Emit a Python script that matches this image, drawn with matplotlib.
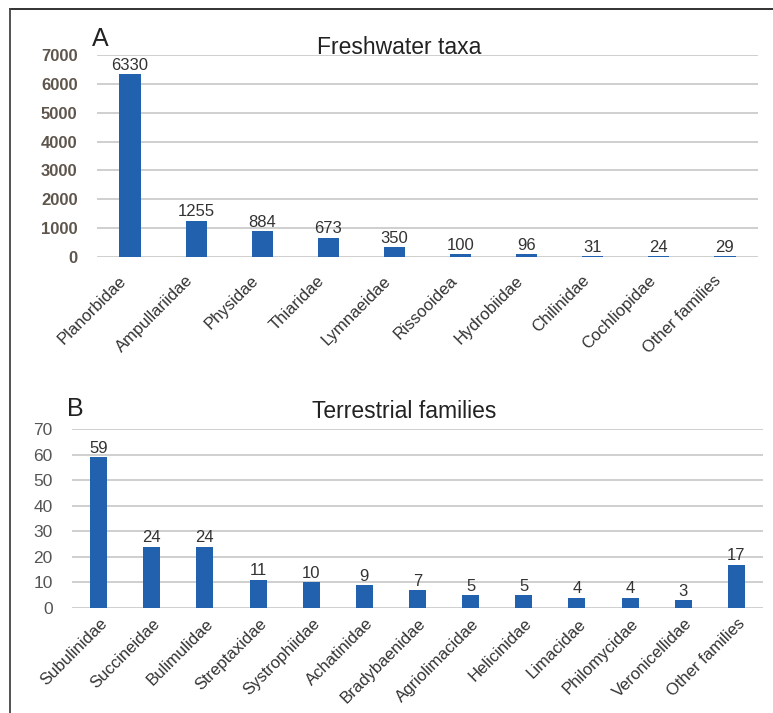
import matplotlib
matplotlib.use("Agg")
import matplotlib.pyplot as plt
from matplotlib.lines import Line2D
from matplotlib.transforms import ScaledTranslation

plt.rcParams['font.family'] = ['Liberation Sans', 'DejaVu Sans']

fresh_taxa = ['Planorbidae', 'Ampullariidae', 'Physidae', 'Thiaridae', 'Lymnaeidae',
              'Rissooidea', 'Hydrobiidae', 'Chilinidae', 'Cochliopidae', 'Other families']
fresh_counts = [6330, 1255, 884, 673, 350, 100, 96, 31, 24, 29]
fresh_ticks = [0, 1000, 2000, 3000, 4000, 5000, 6000, 7000]

terr_families = ['Subulinidae', 'Succineidae', 'Bulimulidae', 'Streptaxidae', 'Systrophiidae',
                 'Achatinidae', 'Bradybaenidae', 'Agriolimacidae', 'Helicinidae', 'Limacidae',
                 'Philomycidae', 'Veronicellidae', 'Other families']
terr_counts = [59, 24, 24, 11, 10, 9, 7, 5, 5, 4, 4, 3, 17]
terr_ticks = [0, 10, 20, 30, 40, 50, 60, 70]

BLUE = '#2161ae'
GRID = '#cfcfcf'

W, H = 773, 713
fig = plt.figure(figsize=(W / 100, H / 100), dpi=100)


def panel(rect, names, values, ticks, tick_color, shift):
    ax = fig.add_axes(rect)
    x = range(len(names))
    ax.bar(x, values, width=0.32, color=BLUE, zorder=3)
    for xi, v in zip(x, values):
        ax.annotate(str(v), (xi, v), xytext=(0, 1), textcoords='offset points',
                    ha='center', va='bottom', fontsize=12, color='#333333', zorder=4)
    ax.set_xlim(-0.5, len(names) - 0.5)
    ax.set_ylim(ticks[0], ticks[-1])
    ax.set_yticks(ticks)
    ax.yaxis.grid(True, color=GRID, linewidth=1.4, zorder=0)
    ax.set_axisbelow(True)
    for s in ax.spines.values():
        s.set_visible(False)
    ax.tick_params(axis='y', length=0, pad=14, labelsize=12.5, labelcolor=tick_color)
    ax.tick_params(axis='x', length=0, pad=6)
    ax.set_xticks(list(x))
    ax.set_xticklabels(names, rotation=45, ha='right', va='center',
                       rotation_mode='anchor', fontsize=12, color='#333333')
    # nudge the rotated labels (pixels at 100 dpi)
    off = ScaledTranslation(shift[0] / 100, shift[1] / 100, fig.dpi_scale_trans)
    for lbl in ax.get_xticklabels():
        lbl.set_transform(lbl.get_transform() + off)
    return ax


axA = panel([97 / W, 1 - 257 / H, 661 / W, 202 / H], fresh_taxa, fresh_counts,
            fresh_ticks, '#5e554c', (-6, -13))
axB = panel([72 / W, 1 - 608 / H, 691 / W, 179 / H], terr_families, terr_counts,
            terr_ticks, '#555555', (6, -5))
for lbl in axA.get_yticklabels():
    lbl.set_fontweight('bold')
    lbl.set_fontsize(12)

fig.text(92 / W, 1 - 46 / H, 'A', fontsize=18, color='#222222', va='baseline')
fig.text(399 / W, 1 - 54 / H, 'Freshwater taxa', fontsize=16.5, color='#222222',
         ha='center', va='baseline')
fig.text(67 / W, 1 - 416 / H, 'B', fontsize=18, color='#222222', va='baseline')
fig.text(404 / W, 1 - 418 / H, 'Terrestrial families', fontsize=16.5, color='#222222',
         ha='center', va='baseline')

# frame lines at top and left of the figure
fig.add_artist(Line2D([10 / W, 1], [1 - 9 / H, 1 - 9 / H], color='#222222', linewidth=1.3))
fig.add_artist(Line2D([10 / W, 10 / W], [0, 1 - 9 / H], color='#444444', linewidth=1.3))

fig.savefig('out.png', dpi=100)
